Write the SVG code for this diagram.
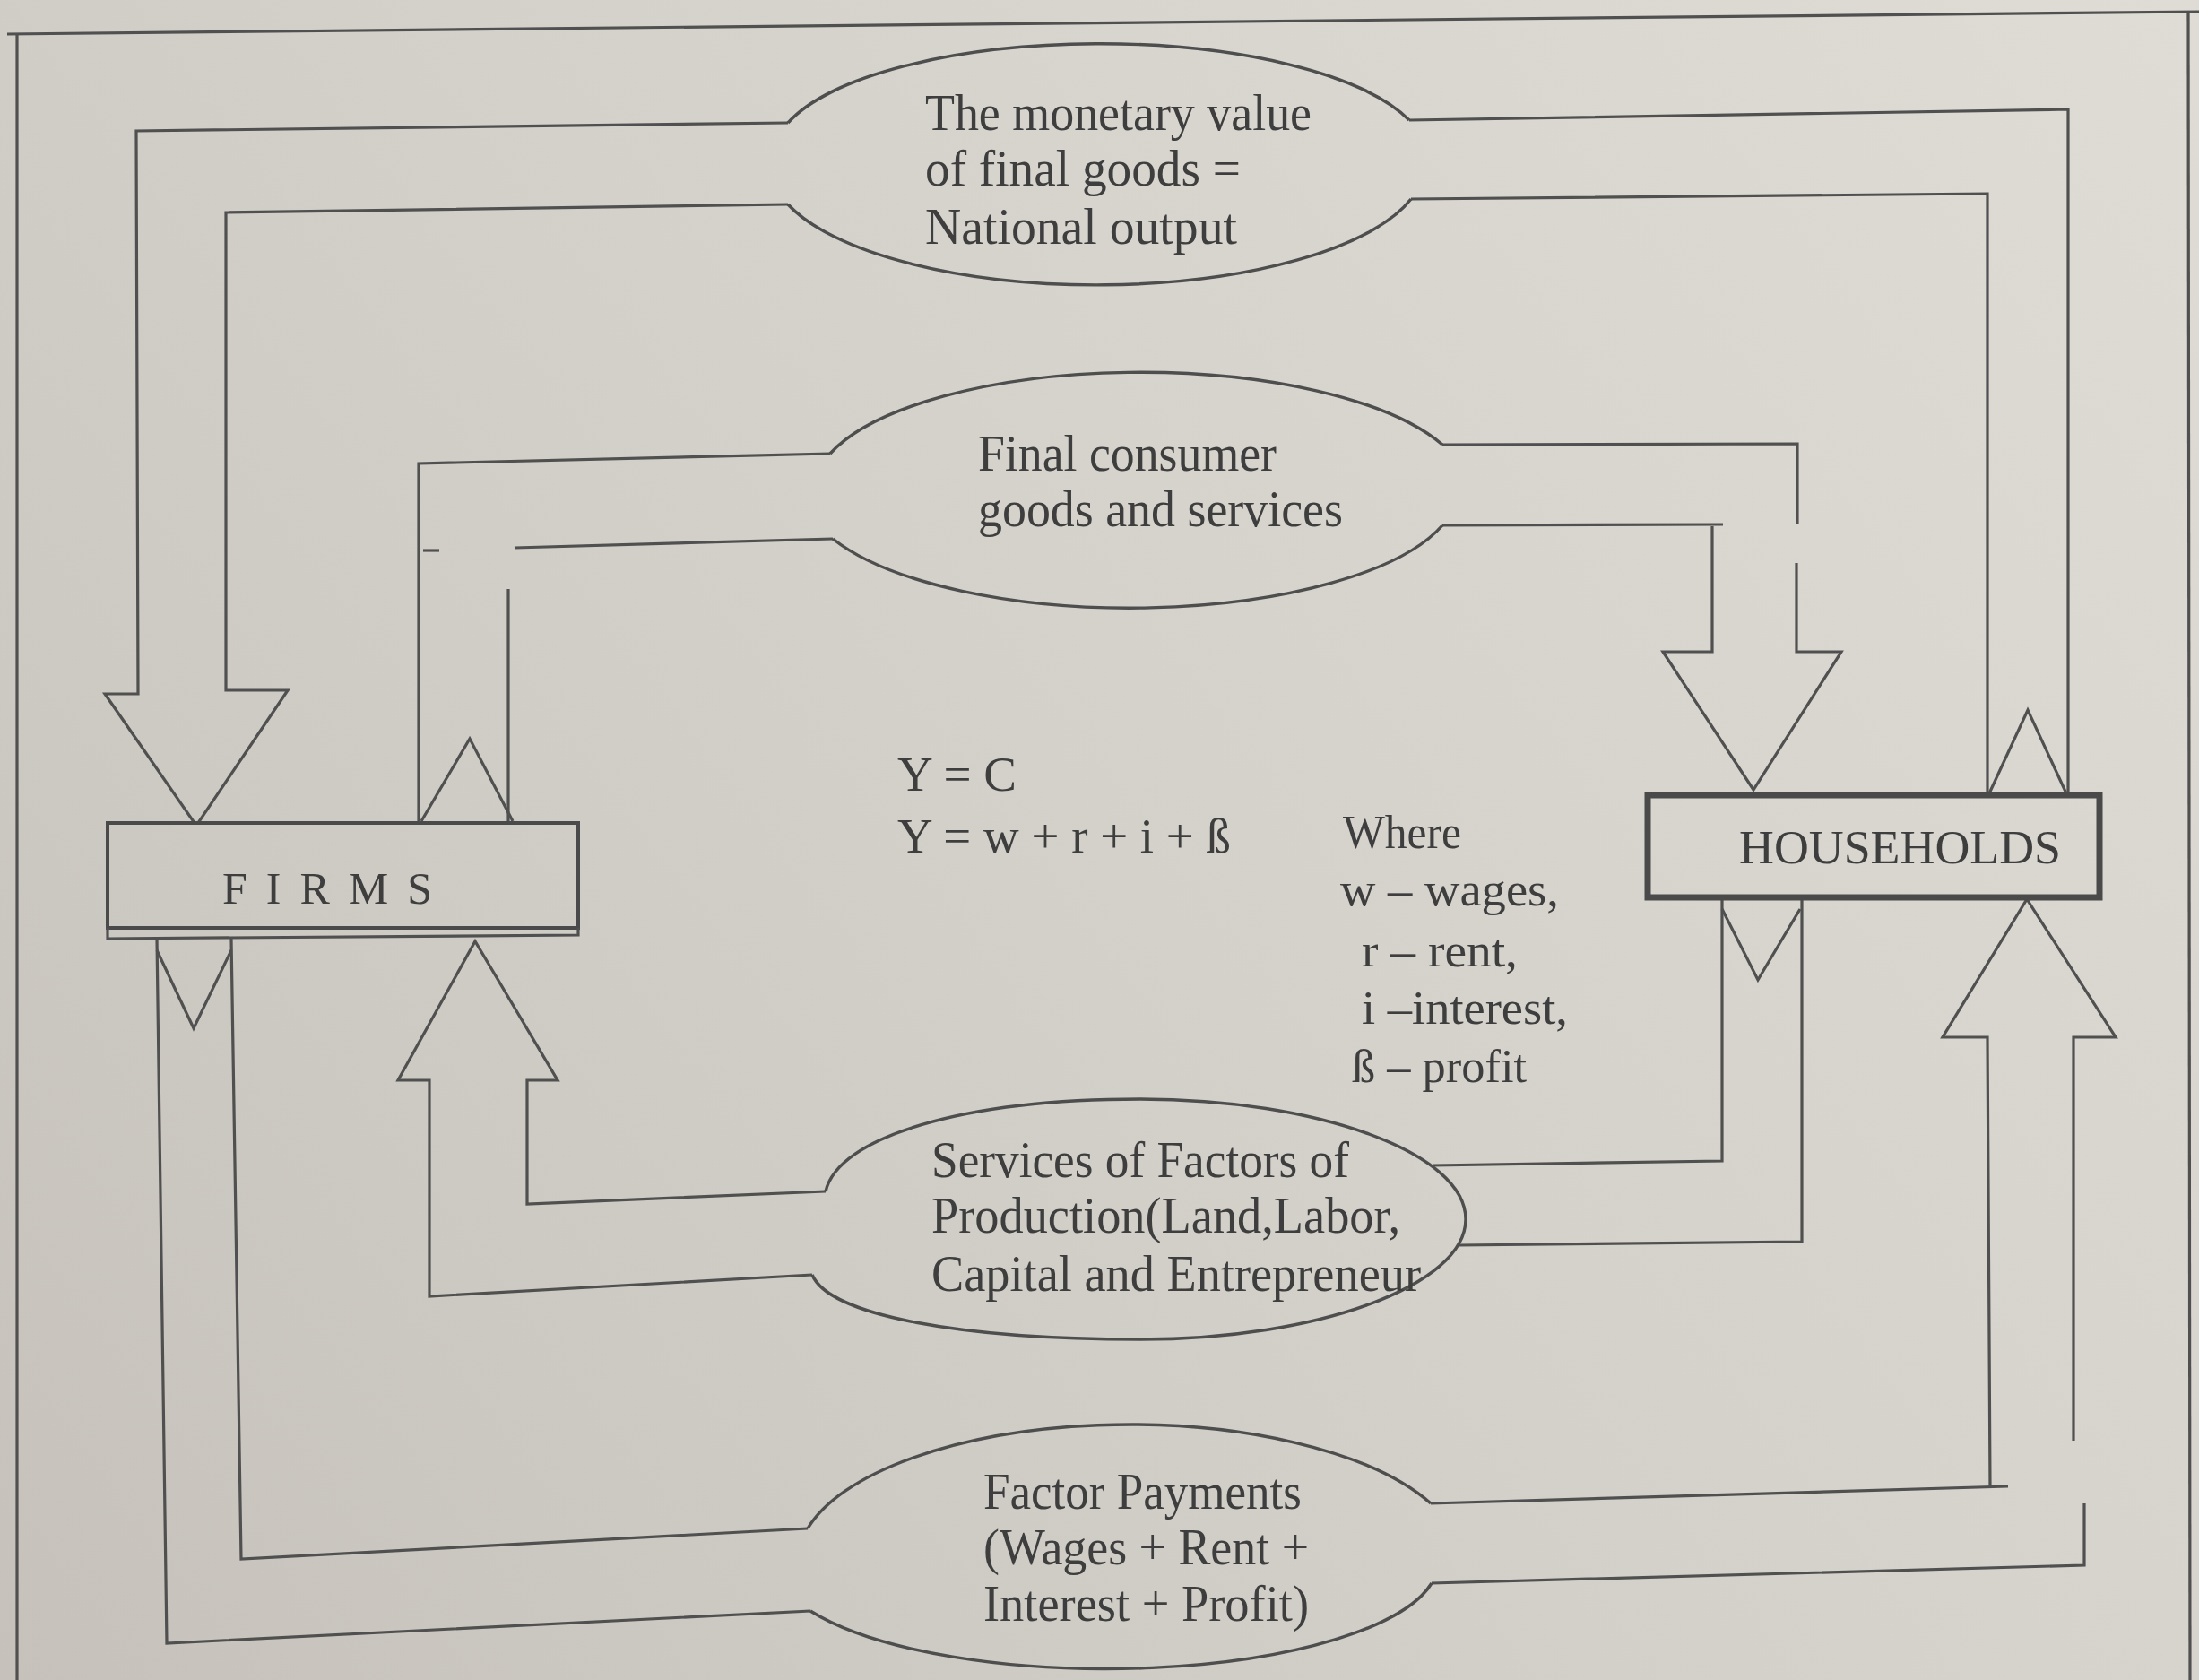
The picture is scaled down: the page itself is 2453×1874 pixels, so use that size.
<svg xmlns="http://www.w3.org/2000/svg" width="2453" height="1874" viewBox="0 0 2453 1874">
  <defs>
    <linearGradient id="bg" gradientUnits="userSpaceOnUse" x1="2453" y1="0" x2="0" y2="1874">
      <stop offset="0" stop-color="#dfdcd6"/>
      <stop offset="0.5" stop-color="#d4d1cb"/>
      <stop offset="1" stop-color="#c6c2bb"/>
    </linearGradient>
    <style>
      .ln { fill: none; stroke: #505050; stroke-width: 3.2; stroke-linejoin: miter; stroke-linecap: butt; }
      .bub { fill: none; stroke: #4e4e4e; stroke-width: 3.4; }
      .box { fill: url(#bg); stroke: #4a4a4a; }
      .t { font-family: "Liberation Serif", "Times New Roman", serif; fill: #3e3e3e; }
      .bt { font-size: 56px; }
      .lg { font-size: 52px; }
    </style>
  </defs>

  <rect x="0" y="0" width="2453" height="1874" fill="url(#bg)"/>

  <!-- page frame -->
  <g id="frame" class="ln" stroke-width="3.5">
    <path d="M 8,38 L 2453,13"/>
    <path d="M 19,37 L 19,1874"/>
    <path d="M 2441,15 L 2443,1874"/>
  </g>

  <!-- connectors (flow channels with arrowheads) -->
  <g id="connectors" class="ln">
    <!-- top loop: monetary value -> firms -->
    <path d="M 879,137 L 152,146 L 154,774 L 117,774 L 219,921 L 321,770 L 252,770 L 252,237 L 879,228"/>
    <!-- top loop: households -> monetary value -->
    <path d="M 1572,134 L 2307,122 L 2307,885"/>
    <path d="M 1574,222 L 2217,216 L 2217,885"/>
    <path d="M 2219,885 L 2262,792 L 2305,885"/>

    <!-- second loop: firms -> final consumer goods -->
    <path d="M 926,506 L 467,517 L 467,918"/>
    <path d="M 929,601 L 574,611"/>
    <path d="M 567,657 L 567,918"/>
    <path d="M 472,614 L 490,614"/>
    <path d="M 470,916 L 524,824 L 572,916"/>
    <!-- final consumer goods -> households -->
    <path d="M 1609,496 L 2005,495 L 2005,585"/>
    <path d="M 2004,628 L 2004,727 L 2054,727 L 1956,881 L 1855,727 L 1910,727 L 1910,587"/>
    <path d="M 1609,586 L 1922,585"/>

    <!-- third loop: households -> services of factors -->
    <path d="M 1598,1300 L 1921,1295 L 1921,1003"/>
    <path d="M 1627,1389 L 2010,1385 L 2010,1003"/>
    <path d="M 1921,1014 L 1961,1093 L 2008,1014"/>
    <!-- services of factors -> firms -->
    <path d="M 921,1329 L 588,1343 L 588,1205 L 622,1205 L 530,1050 L 444,1205 L 479,1205 L 479,1446 L 906,1422"/>

    <!-- bottom loop: firms -> factor payments -->
    <path d="M 175,1060 L 216,1147 L 258,1060"/>
    <path d="M 175,1047 L 186,1833 L 904,1797"/>
    <path d="M 258,1047 L 269,1739 L 901,1705"/>
    <!-- factor payments -> households -->
    <path d="M 1596,1677 L 2240,1658"/>
    <path d="M 2220,1658 L 2217,1157 L 2167,1157 L 2261,1003 L 2360,1157 L 2313,1157 L 2313,1607"/>
    <path d="M 2325,1677 L 2325,1746 L 1597,1766"/>
  </g>

  <!-- FIRMS -->
  <g id="firms">
    <rect class="box" x="120" y="918" width="525" height="117" stroke-width="4"/>
    <path class="ln" d="M 120,1035 L 120,1047 L 645,1043 L 645,1035" stroke-width="4"/>
    <text class="t" x="248" y="1008" font-size="50" textLength="234" lengthAdjust="spacing">FIRMS</text>
  </g>

  <!-- HOUSEHOLDS -->
  <g id="households">
    <rect class="box" x="1838" y="887" width="504" height="114" stroke-width="7"/>
    <text class="t" x="1940" y="963" font-size="52" textLength="359" lengthAdjust="spacingAndGlyphs">HOUSEHOLDS</text>
  </g>

  <!-- bubble: monetary value of final goods -->
  <g id="bubble-output">
    <path class="bub" d="M 879,137 A 364 125 0 0 1 1572,134"/>
    <path class="bub" d="M 1574,222 A 364 132 0 0 1 879,228"/>
    <text class="t bt" x="1032" y="145" textLength="431" lengthAdjust="spacingAndGlyphs">The monetary value</text>
    <text class="t bt" x="1032" y="207" textLength="352" lengthAdjust="spacingAndGlyphs">of final goods =</text>
    <text class="t bt" x="1032" y="272" textLength="348" lengthAdjust="spacingAndGlyphs">National output</text>
  </g>

  <!-- bubble: final consumer goods and services -->
  <g id="bubble-goods">
    <path class="bub" d="M 926,506 A 365 132 0 0 1 1609,496"/>
    <path class="bub" d="M 1609,586 A 365 132 0 0 1 929,601"/>
    <text class="t bt" x="1091" y="525" textLength="333" lengthAdjust="spacingAndGlyphs">Final consumer</text>
    <text class="t bt" x="1091" y="587" textLength="407" lengthAdjust="spacingAndGlyphs">goods and services</text>
  </g>

  <!-- bubble: services of factors of production -->
  <g id="bubble-factors">
    <path class="bub" d="M 921,1329 C 935,1268 1075,1226 1272,1226 C 1470,1226 1635,1286 1635,1360 C 1635,1434 1470,1494 1272,1494 C 1075,1494 925,1468 906,1422"/>
    <text class="t bt" x="1039" y="1313" textLength="466" lengthAdjust="spacingAndGlyphs">Services of Factors of</text>
    <text class="t bt" x="1039" y="1375" textLength="523" lengthAdjust="spacingAndGlyphs">Production(Land,Labor,</text>
    <text class="t bt" x="1039" y="1440" textLength="546" lengthAdjust="spacingAndGlyphs">Capital and Entrepreneur</text>
  </g>

  <!-- bubble: factor payments -->
  <g id="bubble-payments">
    <path class="bub" d="M 901,1705 A 370 152 0 0 1 1596,1677"/>
    <path class="bub" d="M 1597,1766 A 370 118 0 0 1 904,1797"/>
    <text class="t bt" x="1097" y="1683" textLength="355" lengthAdjust="spacingAndGlyphs">Factor Payments</text>
    <text class="t bt" x="1097" y="1745" textLength="363" lengthAdjust="spacingAndGlyphs">(Wages + Rent +</text>
    <text class="t bt" x="1097" y="1808" textLength="363" lengthAdjust="spacingAndGlyphs">Interest + Profit)</text>
  </g>

  <!-- formulas -->
  <g id="formula">
    <text class="t" x="1001" y="882" font-size="54" textLength="133" lengthAdjust="spacingAndGlyphs">Y = C</text>
    <text class="t" x="1001" y="951" font-size="54" textLength="372" lengthAdjust="spacingAndGlyphs">Y = w + r + i + ß</text>
  </g>

  <!-- legend -->
  <g id="legend">
    <text class="t lg" x="1498" y="946" textLength="132" lengthAdjust="spacingAndGlyphs">Where</text>
    <text class="t lg" x="1495" y="1010" textLength="244" lengthAdjust="spacingAndGlyphs">w – wages,</text>
    <text class="t lg" x="1519" y="1078" textLength="174" lengthAdjust="spacingAndGlyphs">r – rent,</text>
    <text class="t lg" x="1519" y="1142" textLength="230" lengthAdjust="spacingAndGlyphs">i –interest,</text>
    <text class="t lg" x="1508" y="1207" textLength="195" lengthAdjust="spacingAndGlyphs">ß – profit</text>
  </g>
</svg>
